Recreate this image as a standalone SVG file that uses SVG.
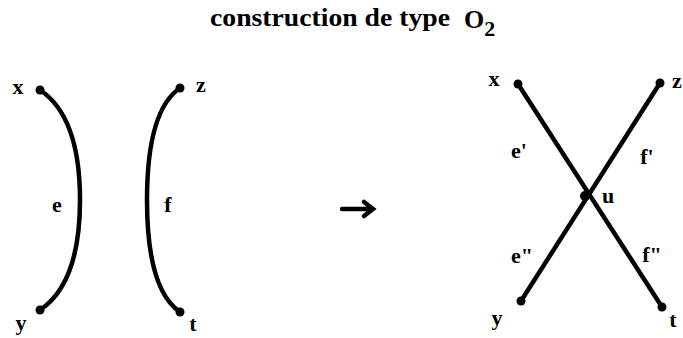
<svg xmlns="http://www.w3.org/2000/svg" width="683" height="338" viewBox="0 0 683 338">
<style>
text{font-family:"Liberation Serif",serif;font-weight:bold;fill:#000}
.lbl{font-size:22px}
.edge{fill:none;stroke:#000;stroke-width:4.5;stroke-linecap:round}
.dot{fill:#000}
</style>
<rect width="683" height="338" fill="#fff"/>
<text x="210" y="26" font-size="25" textLength="240" lengthAdjust="spacingAndGlyphs">construction de type</text>
<text x="464" y="28" font-size="26">O<tspan font-size="22" dy="8">2</tspan></text>
<g id="connectors">
<path id="e" class="edge" d="M40,90 C70,110 80,150 80,200 C80,250 70,290 40,310"/>
<path id="f" class="edge" d="M180,88 C155,105 147,150 147,200 C147,250 155,295 180,312"/>
<path id="arrow" class="edge" stroke-width="2" stroke-linecap="butt" d="M342,209 H372 M364,202 L373,209 L364,216"/>
<line id="xt" class="edge" x1="518" y1="84" x2="662" y2="307"/>
<line id="zy" class="edge" x1="660" y1="83" x2="521" y2="301"/>
</g>
<g id="node-x1"><circle class="dot" cx="40" cy="90" r="4.5"/><text class="lbl" x="18" y="94" text-anchor="middle">x</text></g>
<g id="node-y1"><circle class="dot" cx="40" cy="310" r="4.5"/><text class="lbl" x="21" y="330" text-anchor="middle">y</text></g>
<g id="node-z1"><circle class="dot" cx="180" cy="88" r="4.5"/><text class="lbl" x="201" y="92" text-anchor="middle">z</text></g>
<g id="node-t1"><circle class="dot" cx="180" cy="312" r="4.5"/><text class="lbl" x="193" y="331" text-anchor="middle">t</text></g>
<g id="label-e"><text class="lbl" x="57" y="212" text-anchor="middle">e</text></g>
<g id="label-f"><text class="lbl" x="168" y="212" text-anchor="middle">f</text></g>
<g id="node-x2"><circle class="dot" cx="518" cy="84" r="4.5"/><text class="lbl" x="494" y="86" text-anchor="middle">x</text></g>
<g id="node-z2"><circle class="dot" cx="660" cy="83" r="4.5"/><text class="lbl" x="677" y="88" text-anchor="middle">z</text></g>
<g id="node-y2"><circle class="dot" cx="521" cy="301" r="4.5"/><text class="lbl" x="497" y="325" text-anchor="middle">y</text></g>
<g id="node-t2"><circle class="dot" cx="662" cy="307" r="4.5"/><text class="lbl" x="673" y="327" text-anchor="middle">t</text></g>
<g id="node-u"><circle class="dot" cx="585" cy="196" r="5"/><text class="lbl" x="608" y="203" text-anchor="middle">u</text></g>
<g id="label-e1"><text class="lbl" x="519" y="158" text-anchor="middle">e'</text></g>
<g id="label-f1"><text class="lbl" x="647" y="164" text-anchor="middle">f'</text></g>
<g id="label-e2"><text class="lbl" x="522" y="263" text-anchor="middle">e"</text></g>
<g id="label-f2"><text class="lbl" x="652" y="262" text-anchor="middle">f"</text></g>
</svg>
